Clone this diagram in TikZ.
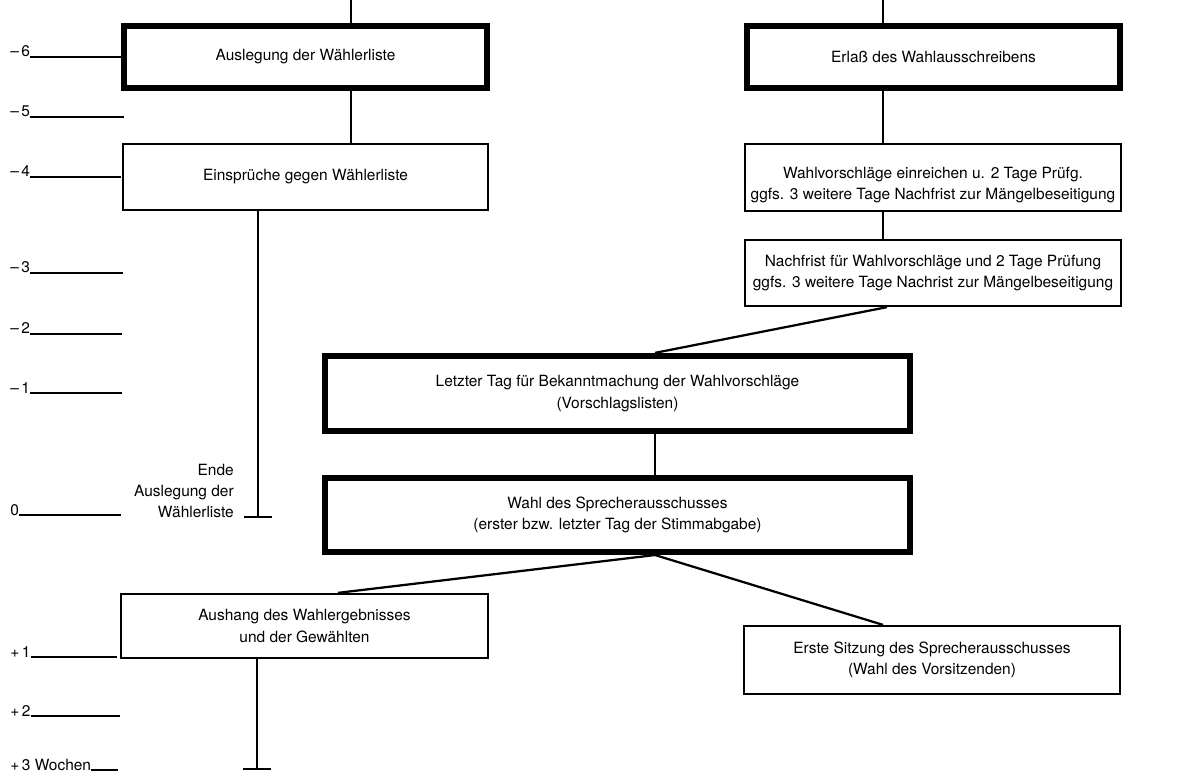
\documentclass[tikz,border=0pt]{standalone}
\usepackage{fontspec}
\setmainfont{TeX Gyre Heros}
\usetikzlibrary{arrows.meta}

\tikzset{
    phase/.style={draw, line width=1.6pt, fill=white, align=center,
        inner sep=0pt, font=\fontsize{11}{15}\selectfont},
    deadline/.style={phase, line width=4.3pt},
    week/.style={anchor=base west, inner sep=0pt,
        font=\fontsize{11}{13}\selectfont},
    link/.style={line width=1.6pt},
    stop/.style={link, -{Bar[width=0.7cm]}},
}

\begin{document}
\begin{tikzpicture}[x=0.025cm, y=-0.025cm]
    \useasboundingbox (0,0) rectangle (1184,774);

    % Zeitachse (Wochen)
    \foreach \y/\lab/\xend in {57/{--\,6}/121, 117/{--\,5}/124, 177/{--\,4}/121,
        273/{--\,3}/123, 334/{--\,2}/122, 393/{--\,1}/122, 515/{0}/121,
        657/{+\,1}/117, 716/{+\,2}/120, 770/{+\,3 Wochen}/118}{%
        \node[week] (w\y) at (10,\y) {\lab};
        \draw[link] (w\y.base east) -- (\xend,\y);
    }

    % linke Spalte
    \node[deadline, minimum width=9.08cm, minimum height=1.55cm]
        (auslegung) at (305.5,57) {Auslegung der Wählerliste};
    \node[phase, minimum width=9.13cm, minimum height=1.65cm]
        (einspruch) at (305.5,177) {Einsprüche gegen Wählerliste};
    \node[anchor=east, align=right, inner sep=0pt,
        font=\fontsize{11}{15}\selectfont]
        (ende) at (234,491) {Ende\\Auslegung der\\Wählerliste};

    % rechte Spalte
    \node[deadline, minimum width=9.33cm, minimum height=1.55cm]
        (erlass) at (933.5,57) {Erlaß des Wahlausschreibens};
    \node[phase, minimum width=9.4cm, minimum height=1.68cm,
        text height=34pt, text depth=3pt]
        (vorschlag) at (933,177.5) {Wahlvorschläge einreichen u. 2 Tage Prüfg.\\
        ggfs. 3 weitere Tage Nachfrist zur Mängelbeseitigung};
    \node[phase, minimum width=9.4cm, minimum height=1.65cm]
        (nachfrist) at (933,273) {Nachfrist für Wahlvorschläge und 2 Tage Prüfung\\
        ggfs. 3 weitere Tage Nachrist zur Mängelbeseitigung};

    % Mitte
    \node[deadline, minimum width=14.63cm, minimum height=1.88cm]
        (bekannt) at (617.5,393.5) {Letzter Tag für Bekanntmachung der Wahlvorschläge\\
        (Vorschlagslisten)};
    \node[deadline, minimum width=14.63cm, minimum height=1.85cm]
        (wahl) at (617.5,515) {Wahl des Sprecherausschusses\\
        (erster bzw. letzter Tag der Stimmabgabe)};

    % nach der Wahl
    \node[phase, minimum width=9.18cm, minimum height=1.6cm]
        (aushang) at (304.5,626) {Aushang des Wahlergebnisses\\und der Gewählten};
    \node[phase, minimum width=9.4cm, minimum height=1.7cm]
        (sitzung) at (932,660) {Erste Sitzung des Sprecherausschusses\\
        (Wahl des Vorsitzenden)};

    \coordinate (colA) at (351,0);
    \coordinate (colC) at (883,0);
    \coordinate (colD) at (887,0);
    \coordinate (colE) at (655,0);
    \coordinate (colF) at (338,0);
    \coordinate (endeA) at (258,518);
    \coordinate (endeB) at (257,770);

    \draw[link] (colA) -- (colA |- auslegung.north);
    \draw[link] (auslegung.south -| colA) -- (einspruch.north -| colA);
    \draw[stop] (einspruch.south -| endeA) -- (endeA);

    \draw[link] (colC) -- (colC |- erlass.north);
    \draw[link] (erlass.south -| colC) -- (vorschlag.north -| colC);
    \draw[link] (vorschlag.south -| colC) -- (nachfrist.north -| colC);
    \draw[link] (nachfrist.south -| colD) -- (bekannt.north -| colE);
    \draw[link] (bekannt.south -| colE) -- (wahl.north -| colE);

    \draw[link] (wahl.south -| colE) -- (aushang.north -| colF);
    \draw[link] (wahl.south -| colE) -- (sitzung.north -| colC);
    \draw[stop] (aushang.south -| endeB) -- (endeB);
\end{tikzpicture}
\end{document}
